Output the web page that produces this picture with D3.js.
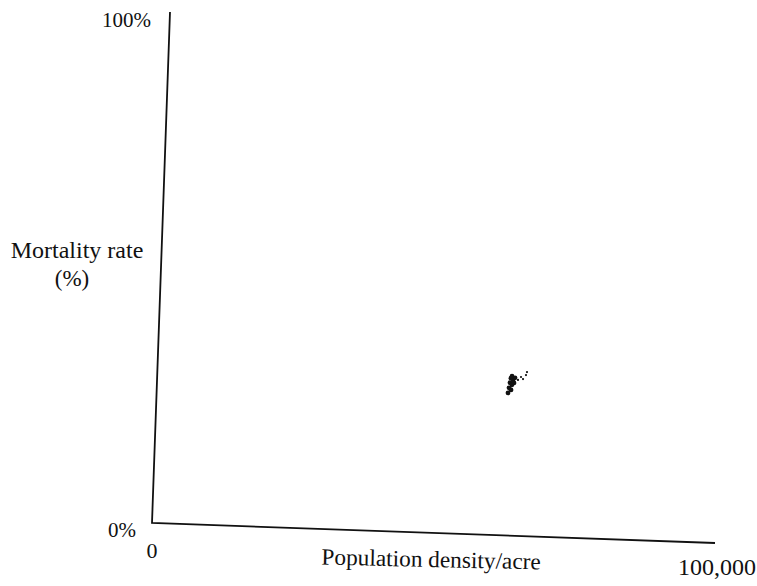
<!DOCTYPE html>
<html>
<head>
<meta charset="utf-8">
<script src="https://cdn.jsdelivr.net/npm/d3@7"></script>
<style>
  html, body { margin: 0; padding: 0; background: #fff; }
  svg { display: block; }
  text { font-family: "Liberation Serif", "DejaVu Serif", serif; fill: #111; }
</style>
</head>
<body>
<svg id="chart" width="757" height="586"></svg>
<script>
// ---- data ----
const xDomain = [0, 100000];          // population density / acre
const yDomain = [0, 100];             // mortality rate (%)
const xTickLabels = ["0", "100,000"];
const yTickLabels = ["0%", "100%"];
const xTitle = "Population density/acre";
const yTitleLines = ["Mortality rate", "(%)"];
// dense core of the point cloud
const coreDensity   = [62780, 63150, 62630, 63000, 62490, 62860, 62340, 63340, 63490, 62950];
const coreMortality = [30.8, 30.5, 29.9, 29.5, 28.9, 28.5, 27.9, 29.9, 30.9, 31.2];
// faint specks to the upper right
const speckDensity   = [64030, 64550, 64920, 65420, 65580];
const speckMortality = [30.5, 31.1, 30.7, 31.5, 32.1];

// ---- layout (the scanned axes are slightly skewed) ----
const svg = d3.select("#chart");
const origin = [152, 523];
const xVec = [563, 20];    // pixel vector of full x axis
const yVec = [18, -511];   // pixel vector of full y axis

const x = d3.scaleLinear().domain(xDomain).range([0, 1]);
const y = d3.scaleLinear().domain(yDomain).range([0, 1]);
const proj = (dx, dy) => {
  const u = x(dx), v = y(dy);
  return [origin[0] + u * xVec[0] + v * yVec[0], origin[1] + u * xVec[1] + v * yVec[1]];
};

const line = d3.line();
// axes
svg.append("path")
  .attr("d", line([proj(xDomain[0], yDomain[1]), proj(xDomain[0], yDomain[0]), proj(xDomain[1], yDomain[0])]))
  .attr("fill", "none").attr("stroke", "#111").attr("stroke-width", 1.8);

// y tick labels
const y0 = proj(xDomain[0], yDomain[0]);
const y1 = proj(xDomain[0], yDomain[1]);
svg.append("text").attr("x", y0[0] - 16).attr("y", y0[1] + 14)
  .attr("text-anchor", "end").attr("font-size", 21).text(yTickLabels[0]);
svg.append("text").attr("x", y1[0] - 19).attr("y", y1[1] + 15)
  .attr("text-anchor", "end").attr("font-size", 21).text(yTickLabels[1]);

// x tick labels
const x0 = proj(xDomain[0], yDomain[0]);
const x1 = proj(xDomain[1], yDomain[0]);
svg.append("text").attr("x", x0[0]).attr("y", x0[1] + 35)
  .attr("text-anchor", "middle").attr("font-size", 22).text(xTickLabels[0]);
svg.append("text").attr("x", x1[0] + 41).attr("y", x1[1] + 32)
  .attr("text-anchor", "end").attr("font-size", 24).text(xTickLabels[1]);

// titles
svg.append("text").attr("x", 431).attr("y", 567)
  .attr("text-anchor", "middle").attr("font-size", 23.3)
  .attr("transform", "rotate(1.3 431 567)").text(xTitle);
svg.append("text").attr("x", 77).attr("y", 258)
  .attr("text-anchor", "middle").attr("font-size", 24).text(yTitleLines[0]);
svg.append("text").attr("x", 72).attr("y", 286)
  .attr("text-anchor", "middle").attr("font-size", 23).text(yTitleLines[1]);

// points
svg.append("g").selectAll("circle").data(d3.zip(coreDensity, coreMortality)).join("circle")
  .attr("cx", d => proj(d[0], d[1])[0]).attr("cy", d => proj(d[0], d[1])[1])
  .attr("r", 2.4).attr("fill", "#111");
svg.append("g").selectAll("circle").data(d3.zip(speckDensity, speckMortality)).join("circle")
  .attr("cx", d => proj(d[0], d[1])[0]).attr("cy", d => proj(d[0], d[1])[1])
  .attr("r", 1.1).attr("fill", "#111");
</script>
</body>
</html>
